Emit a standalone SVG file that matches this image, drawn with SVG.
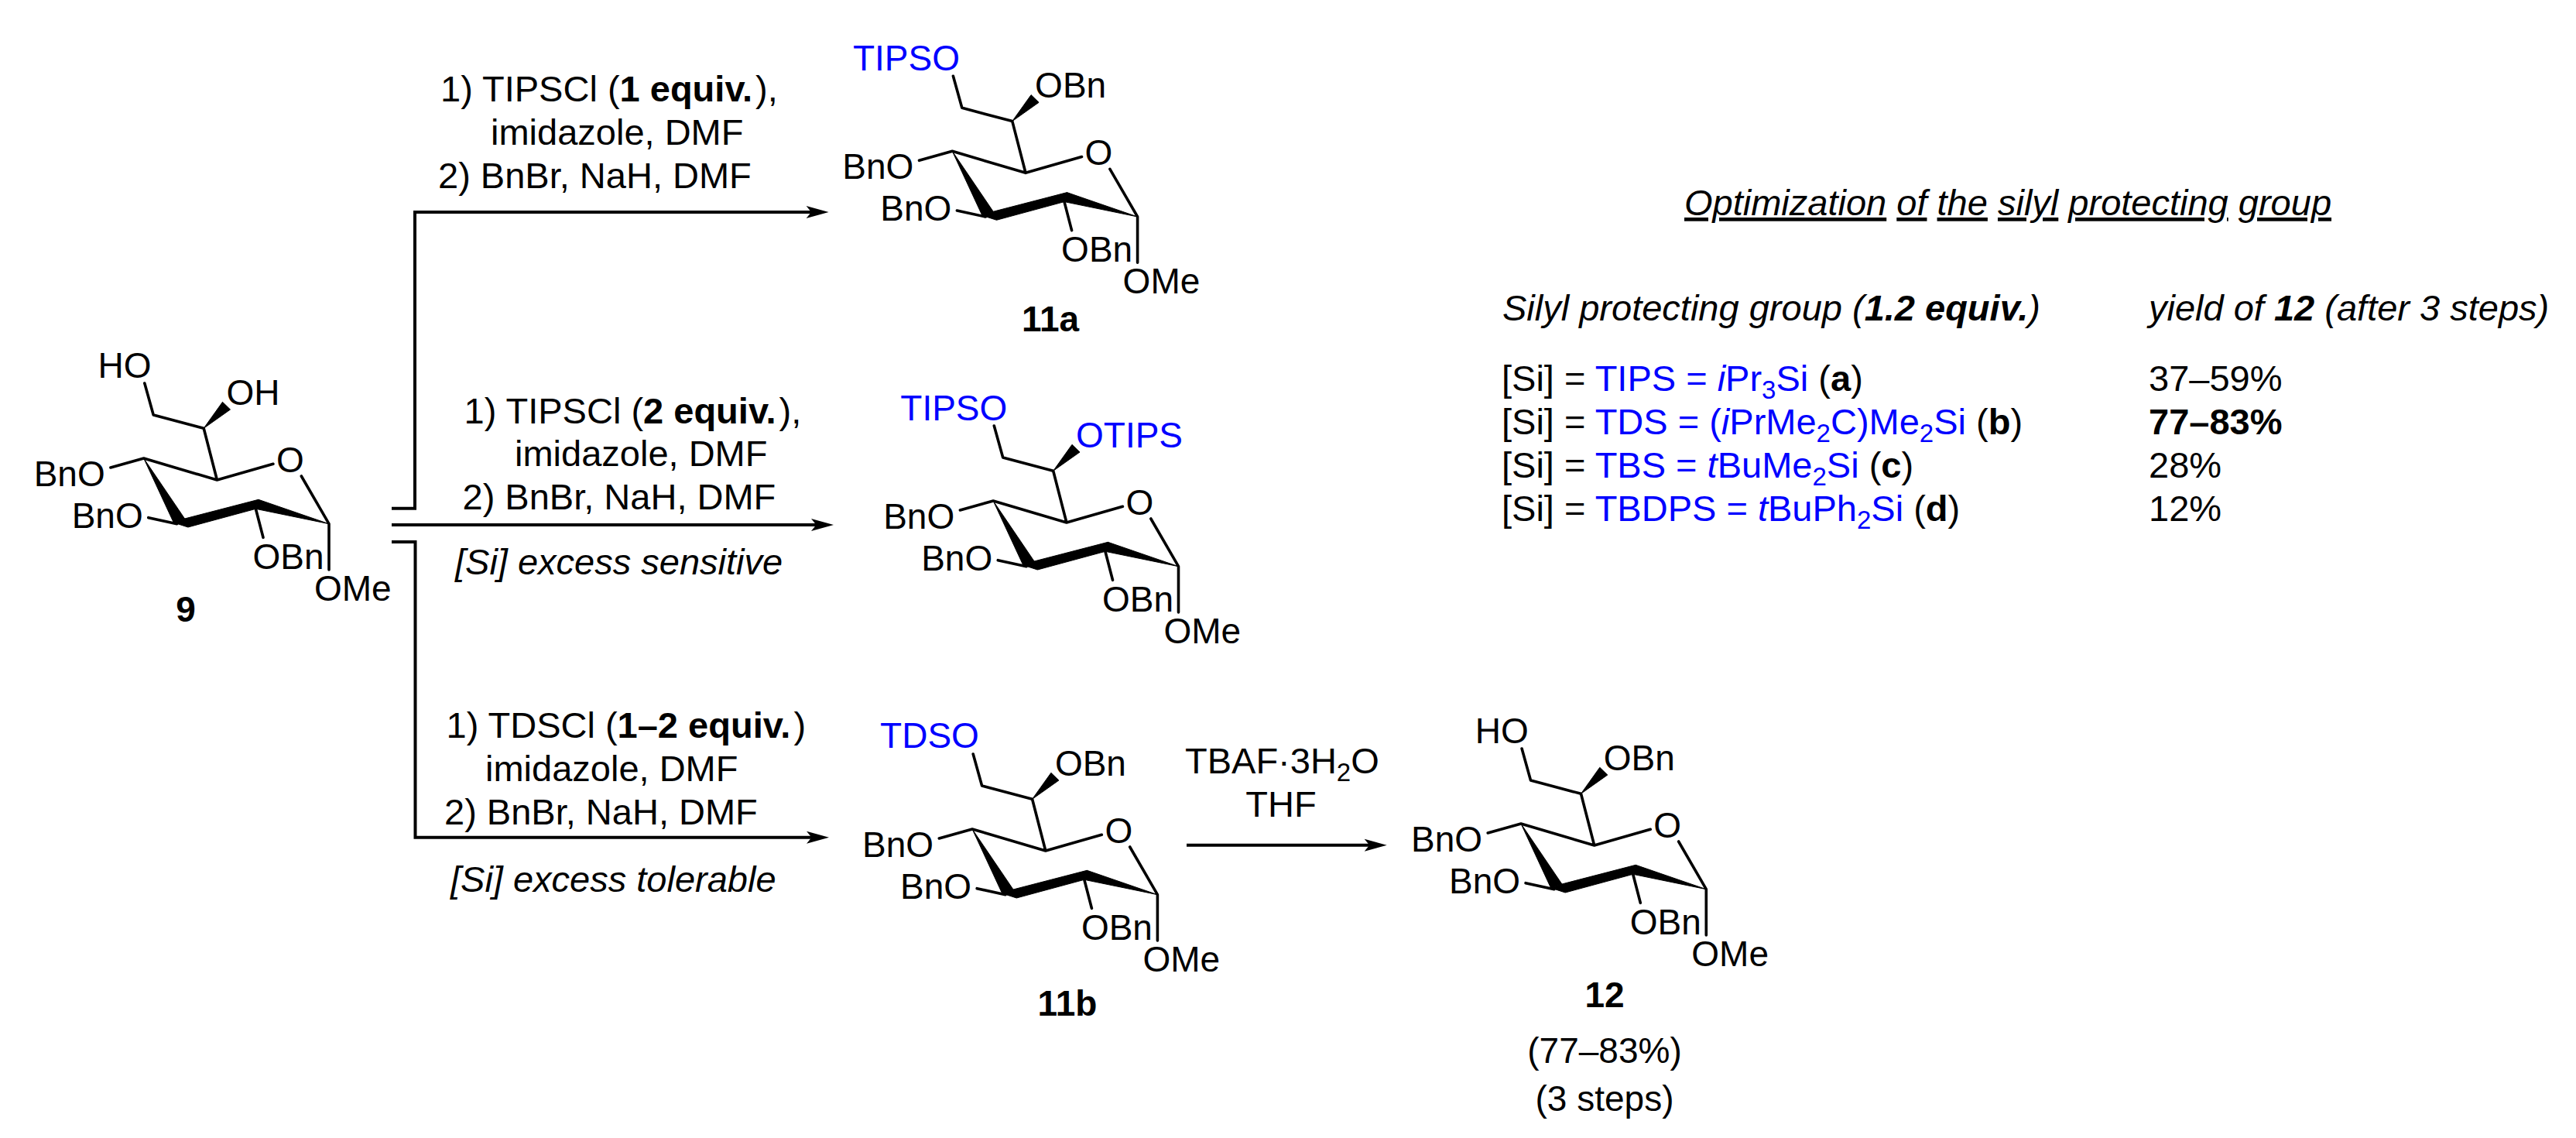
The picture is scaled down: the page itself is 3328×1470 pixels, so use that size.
<svg xmlns="http://www.w3.org/2000/svg" xmlns:xlink="http://www.w3.org/1999/xlink" width="3328" height="1470" viewBox="0 0 3328 1470">
<style>
text{font-family:"Liberation Sans",Arial,sans-serif;font-size:46px;fill:#000}
#labels-top text,#labels-middle text,#labels-bottom text,#table text{font-size:47px}
.b{font-weight:700}
.i{font-style:italic}
.blue,.blue tspan{fill:#0000ff}
.u{text-decoration:underline}
.bond{fill:none;stroke:#000;stroke-width:3.6;stroke-linecap:round;stroke-linejoin:round}
.solid{fill:#000;stroke:#000;stroke-width:1;stroke-linejoin:round}
.conn{fill:none;stroke:#000;stroke-width:4}
</style>
<defs>
<marker id="ah" markerUnits="userSpaceOnUse" markerWidth="32" markerHeight="20" refX="15" refY="9" orient="auto" viewBox="0 0 32 20"><path d="M30 9 L1 1 L7.500 9 L1 17 Z" fill="#000"/></marker>
<g id="sugar">
<path class="bond" d="M186.800 495 L198.200 536 L263.200 553.300 L280.400 620 L352.900 599.300 M280.400 620 L185.700 592 L142.900 604 M191.800 668.700 L228.600 676.700 M330.400 657.300 L340 694.300 M425 736 L425 676.700 L389.300 615"/>
<path class="solid" d="M263.200 553.300 L287.500 519.300 L297.500 529 Z"/>
<path class="solid" d="M185.700 592 L224.300 675 L238.600 670 Z"/>
<path class="solid" d="M224.300 675 L238.600 670 L333.900 645.300 L330.400 657.300 L242.900 681 Z"/>
<path class="solid" d="M333.900 645.300 L330.400 657.300 L425 676.700 Z"/>
</g>
</defs>
<rect width="3328" height="1470" fill="#fff"/>
<g id="connectors">
<path class="conn" d="M506 656.700 H536 V274 H1055.600" marker-end="url(#ah)"/>
<path class="conn" d="M506 678 H1062" marker-end="url(#ah)"/>
<path class="conn" d="M506 700 H536.500 V1081.700 H1056" marker-end="url(#ah)"/>
<path class="conn" d="M1533 1091.700 H1776.700" marker-end="url(#ah)"/>
</g>
<g id="node-9">
<use xlink:href="#sugar" href="#sugar"/>
<text x="126.500" y="488">HO</text><text x="292.500" y="523">OH</text><text x="357" y="610">O</text>
<text x="43.700" y="628">BnO</text><text x="92.700" y="682">BnO</text><text x="326.500" y="735">OBn</text><text x="406" y="776">OMe</text>
<text class="b" x="240" y="803" text-anchor="middle">9</text>
</g>
<g id="node-11a" transform="translate(1044.600 -396.700)">
<use xlink:href="#sugar" href="#sugar"/>
<text class="blue" x="57.400" y="487.700">TIPSO</text><text x="292.500" y="523">OBn</text><text x="357" y="610">O</text>
<text x="43.700" y="628">BnO</text><text x="92.700" y="682">BnO</text><text x="326.500" y="735">OBn</text><text x="406" y="776">OMe</text>
<text class="b" x="312.400" y="824.700" text-anchor="middle">11a</text>
</g>
<g id="node-bis-tips" transform="translate(1097.500 55)">
<use xlink:href="#sugar" href="#sugar"/>
<text class="blue" x="65.800" y="488">TIPSO</text><text class="blue" x="292.500" y="523">OTIPS</text><text x="357" y="610">O</text>
<text x="43.700" y="628">BnO</text><text x="92.700" y="682">BnO</text><text x="326.500" y="735">OBn</text><text x="406" y="776">OMe</text>
</g>
<g id="node-11b" transform="translate(1070.400 479)">
<use xlink:href="#sugar" href="#sugar"/>
<text class="blue" x="66.700" y="487">TDSO</text><text x="292.500" y="523">OBn</text><text x="357" y="610">O</text>
<text x="43.700" y="628">BnO</text><text x="92.700" y="682">BnO</text><text x="326.500" y="735">OBn</text><text x="406" y="776">OMe</text>
<text class="b" x="308.600" y="832.700" text-anchor="middle">11b</text>
</g>
<g id="node-12" transform="translate(1779.300 472)">
<use xlink:href="#sugar" href="#sugar"/>
<text x="126.500" y="488">HO</text><text x="292.500" y="523">OBn</text><text x="357" y="610">O</text>
<text x="43.700" y="628">BnO</text><text x="92.700" y="682">BnO</text><text x="326.500" y="735">OBn</text><text x="406" y="776">OMe</text>
<text class="b" x="293.700" y="828.600" text-anchor="middle">12</text>
<text x="293.700" y="900.500" text-anchor="middle">(77–83%)</text>
<text x="293.700" y="963" text-anchor="middle">(3 steps)</text>
</g>
<g id="labels-top">
<text x="569" y="131">1) TIPSCl (<tspan class="b">1 equiv.</tspan><tspan dx="4">),</tspan></text>
<text x="634" y="187">imidazole, DMF</text>
<text x="566" y="242.500">2) BnBr, NaH, DMF</text>
</g>
<g id="labels-middle">
<text x="599.500" y="546.500">1) TIPSCl (<tspan class="b">2 equiv.</tspan><tspan dx="4">),</tspan></text>
<text x="665" y="602.400">imidazole, DMF</text>
<text x="597.500" y="658.400">2) BnBr, NaH, DMF</text>
<text class="i" x="588" y="741.700">[Si] excess sensitive</text>
</g>
<g id="labels-bottom">
<text x="576.500" y="953">1) TDSCl (<tspan class="b">1–2 equiv.</tspan><tspan dx="4">)</tspan></text>
<text x="627" y="1009">imidazole, DMF</text>
<text x="574" y="1065">2) BnBr, NaH, DMF</text>
<text class="i" x="582" y="1151.700">[Si] excess tolerable</text>
<text x="1531" y="999">TBAF·3H<tspan font-size="33" dy="10">2</tspan><tspan dy="-10">O</tspan></text>
<text x="1655" y="1055" text-anchor="middle">THF</text>
</g>
<g id="table">
<text class="i" x="2176" y="278"><tspan class="u">Optimization</tspan> <tspan class="u">of</tspan> <tspan class="u">the</tspan> <tspan class="u">silyl</tspan> <tspan class="u">protecting</tspan> <tspan class="u">group</tspan></text>
<text class="i" x="1941" y="414">Silyl protecting group (<tspan class="b">1.2 equiv.</tspan>)</text>
<text class="i" x="2776" y="414">yield of <tspan class="b">12</tspan> (after 3 steps)</text>
<text x="1940" y="505">[Si] = <tspan class="blue">TIPS = <tspan class="i">i</tspan>Pr<tspan font-size="33" dy="10">3</tspan><tspan dy="-10">Si</tspan></tspan> (<tspan class="b">a</tspan>)</text>
<text x="1940" y="561">[Si] = <tspan class="blue">TDS = (<tspan class="i">i</tspan>PrMe<tspan font-size="33" dy="10">2</tspan><tspan dy="-10">C)Me</tspan><tspan font-size="33" dy="10">2</tspan><tspan dy="-10">Si</tspan></tspan> (<tspan class="b">b</tspan>)</text>
<text x="1940" y="617">[Si] = <tspan class="blue">TBS = <tspan class="i">t</tspan>BuMe<tspan font-size="33" dy="10">2</tspan><tspan dy="-10">Si</tspan></tspan> (<tspan class="b">c</tspan>)</text>
<text x="1940" y="673">[Si] = <tspan class="blue">TBDPS = <tspan class="i">t</tspan>BuPh<tspan font-size="33" dy="10">2</tspan><tspan dy="-10">Si</tspan></tspan> (<tspan class="b">d</tspan>)</text>
<text x="2776" y="505">37–59%</text>
<text class="b" x="2776" y="561">77–83%</text>
<text x="2776" y="617">28%</text>
<text x="2776" y="673">12%</text>
</g>
</svg>
